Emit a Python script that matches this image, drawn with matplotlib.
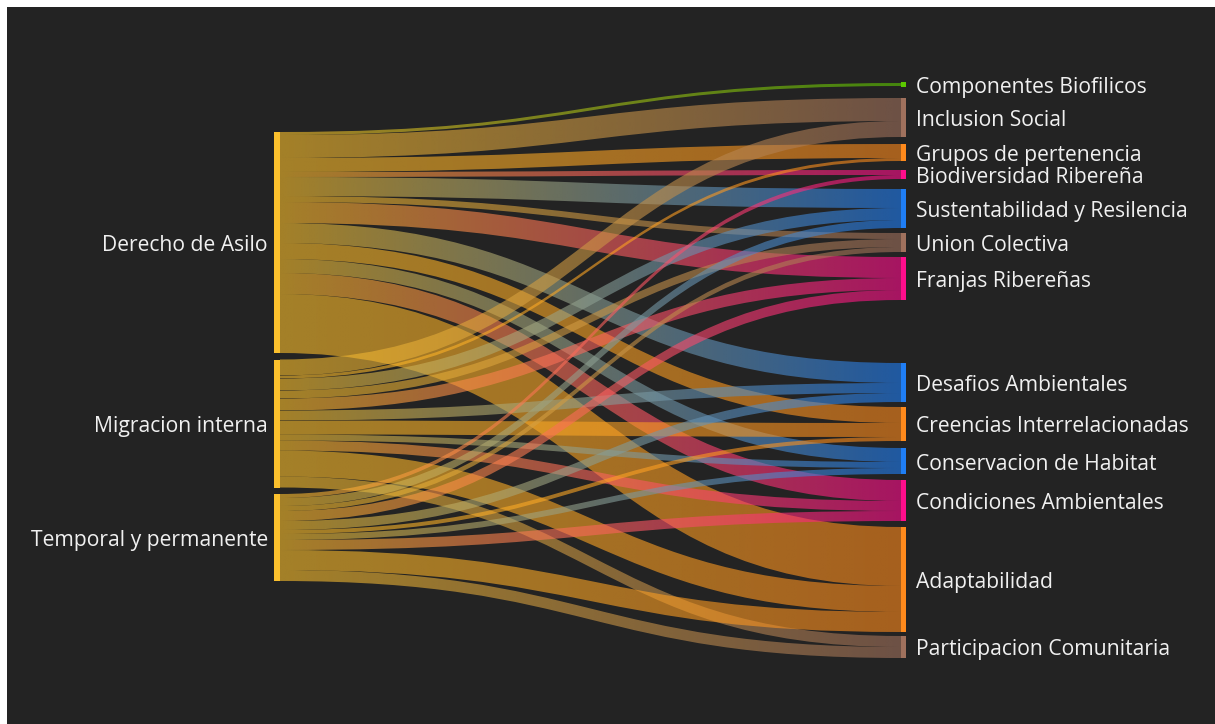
import matplotlib
matplotlib.use('Agg')
import matplotlib.pyplot as plt
import numpy as np
from matplotlib.path import Path
from matplotlib.patches import PathPatch, Rectangle
from matplotlib.colors import to_rgb

# nodos
sources = ['Derecho de Asilo', 'Migracion interna', 'Temporal y permanente']
targets = ['Componentes Biofilicos', 'Inclusion Social', 'Grupos de pertenencia',
           'Biodiversidad Ribereña', 'Sustentabilidad y Resilencia', 'Union Colectiva',
           'Franjas Ribereñas', 'Desafios Ambientales', 'Creencias Interrelacionadas',
           'Conservacion de Habitat', 'Condiciones Ambientales', 'Adaptabilidad',
           'Participacion Comunitaria']

# flujos de cada origen hacia cada destino (mismo orden que targets)
flujo_derecho = [3, 23, 14, 5, 19, 6, 21, 20, 16, 14, 21, 59, 0]
flujo_migracion = [0, 16, 3, 0, 12, 8, 12, 10, 14, 6, 10, 26, 11]
flujo_temporal = [0, 0, 0, 4, 8, 5, 10, 9, 4, 6, 10, 20, 11]

# estilo
BG = '#232323'
TXT = '#f0f0f0'
source_color = '#fbc02d'
GREEN, BROWN, ORANGE, PINK, BLUE = '#5cc800', '#a0715d', '#ff8a1c', '#ff0d8c', '#1f7ef5'
target_colors = [GREEN, BROWN, ORANGE, PINK, BLUE, BROWN, PINK, BLUE, ORANGE, BLUE, PINK, ORANGE, BROWN]
link_alpha = 0.6
FS = 15.2

# layout (pixeles)
px = 1.0
src_x0, src_x1 = 274, 280
tgt_x0, tgt_x1 = 901, 906
src_top, src_pad = 132, 6.5
tgt_top = 82
tgt_gaps = [0, 11, 7, 9, 10, 5, 5, 63, 5, 7, 6, 6, 4]
min_node = 5

flows = np.array([flujo_derecho, flujo_migracion, flujo_temporal], dtype=float)

# posiciones de nodos
src_h = flows.sum(axis=1) * px
src_y = src_top + np.concatenate([[0], np.cumsum(src_h[:-1] + src_pad)])

tgt_val = flows.sum(axis=0) * px
tgt_h = np.maximum(tgt_val, min_node)
tgt_y = []
y = tgt_top
for h, g in zip(tgt_h, tgt_gaps):
    y += g
    tgt_y.append(y)
    y += h
tgt_y = np.array(tgt_y)

fig = plt.figure(figsize=(12.15, 7.24), dpi=100, facecolor='white')
ax = fig.add_axes([7 / 1215, 0, 1208 / 1215, 717 / 724])
ax.set_facecolor(BG)
ax.set_xticks([])
ax.set_yticks([])
for s in ax.spines.values():
    s.set_visible(False)

# offsets de enlaces en cada nodo
src_off = src_y.copy()
tgt_off = tgt_y + (tgt_h - tgt_val) / 2
links = []
for i in range(len(sources)):
    for j in range(len(targets)):
        v = flows[i, j] * px
        if v <= 0:
            continue
        links.append([i, j, v, src_off[i], 0.0])
        src_off[i] += v
for j in range(len(targets)):
    for lk in links:
        if lk[1] == j:
            lk[4] = tgt_off[j]
            tgt_off[j] += lk[2]

xm = (src_x1 + tgt_x0) / 2
n = 256
for i, j, v, ys, yt in links:
    verts = [(src_x1, ys), (xm, ys), (xm, yt), (tgt_x0, yt),
             (tgt_x0, yt + v), (xm, yt + v), (xm, ys + v), (src_x1, ys + v), (src_x1, ys)]
    codes = [Path.MOVETO, Path.CURVE4, Path.CURVE4, Path.CURVE4,
             Path.LINETO, Path.CURVE4, Path.CURVE4, Path.CURVE4, Path.CLOSEPOLY]
    patch = PathPatch(Path(verts, codes), facecolor='none', edgecolor='none')
    ax.add_patch(patch)
    c0 = np.array(to_rgb(source_color))
    c1 = np.array(to_rgb(target_colors[j]))
    t = np.linspace(0, 1, n)[:, None]
    grad = np.ones((1, n, 4))
    grad[0, :, :3] = c0 * (1 - t) + c1 * t
    grad[0, :, 3] = link_alpha
    ylo, yhi = min(ys, yt), max(ys, yt) + v
    im = ax.imshow(grad, extent=[src_x1, tgt_x0, yhi, ylo], aspect='auto',
                   interpolation='bilinear', zorder=2)
    im.set_clip_path(patch)

# nodos y etiquetas
for i, name in enumerate(sources):
    ax.add_patch(Rectangle((src_x0, src_y[i]), src_x1 - src_x0, src_h[i],
                           facecolor=source_color, edgecolor='none', zorder=3))
    ax.text(268, src_y[i] + src_h[i] / 2 + 3, name, ha='right', va='center',
            color=TXT, fontsize=FS, family='Open Sans', zorder=4)
for j, name in enumerate(targets):
    ax.add_patch(Rectangle((tgt_x0, tgt_y[j]), tgt_x1 - tgt_x0, tgt_h[j],
                           facecolor=target_colors[j], edgecolor='none', zorder=3))
    ax.text(916, tgt_y[j] + tgt_h[j] / 2 + 3, name, ha='left', va='center',
            color=TXT, fontsize=FS, family='Open Sans', zorder=4)

ax.set_xlim(7, 1215)
ax.set_ylim(724, 7)
fig.savefig('out.png', dpi=100, facecolor=fig.get_facecolor())
